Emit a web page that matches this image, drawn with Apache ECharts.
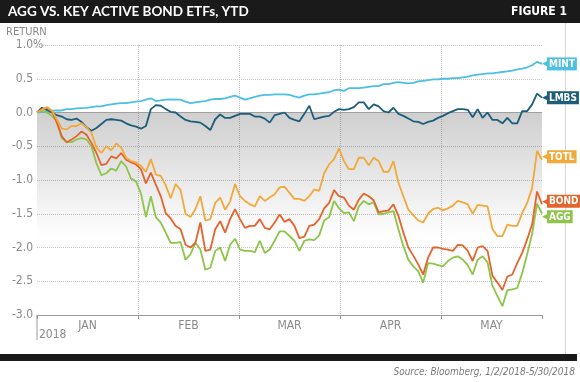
<!DOCTYPE html>
<html>
<head>
<meta charset="utf-8">
<script src="https://cdn.jsdelivr.net/npm/echarts@6/dist/echarts.min.js"></script>
<style>
html,body{margin:0;padding:0;background:#fff;}
#chart{width:580px;height:382px;}
</style>
</head>
<body>
<div id="chart"></div>
<script>
// ---- DATA ----
const dates = [
'2018-01-02','2018-01-03','2018-01-04','2018-01-05','2018-01-08','2018-01-09','2018-01-10','2018-01-11','2018-01-12','2018-01-16',
'2018-01-17','2018-01-18','2018-01-19','2018-01-22','2018-01-23','2018-01-24','2018-01-25','2018-01-26','2018-01-29','2018-01-30',
'2018-01-31','2018-02-01','2018-02-02','2018-02-05','2018-02-06','2018-02-07','2018-02-08','2018-02-09','2018-02-12','2018-02-13',
'2018-02-14','2018-02-15','2018-02-16','2018-02-20','2018-02-21','2018-02-22','2018-02-23','2018-02-26','2018-02-27','2018-02-28',
'2018-03-01','2018-03-02','2018-03-05','2018-03-06','2018-03-07','2018-03-08','2018-03-09','2018-03-12','2018-03-13','2018-03-14',
'2018-03-15','2018-03-16','2018-03-19','2018-03-20','2018-03-21','2018-03-22','2018-03-23','2018-03-26','2018-03-27','2018-03-28',
'2018-03-29','2018-04-02','2018-04-03','2018-04-04','2018-04-05','2018-04-06','2018-04-09','2018-04-10','2018-04-11','2018-04-12',
'2018-04-13','2018-04-16','2018-04-17','2018-04-18','2018-04-19','2018-04-20','2018-04-23','2018-04-24','2018-04-25','2018-04-26',
'2018-04-27','2018-04-30','2018-05-01','2018-05-02','2018-05-03','2018-05-04','2018-05-07','2018-05-08','2018-05-09','2018-05-10',
'2018-05-11','2018-05-14','2018-05-15','2018-05-16','2018-05-17','2018-05-18','2018-05-21','2018-05-22','2018-05-23','2018-05-24',
'2018-05-25','2018-05-29','2018-05-30'
];
const monthLabels = ['JAN','FEB','MAR','APR','MAY'];

const mint = [
0,0.01,0.02,0.025,0.03,0.03,0.05,0.05,0.06,0.065,
0.07,0.08,0.09,0.09,0.11,0.12,0.13,0.14,0.14,0.15,
0.16,0.17,0.19,0.21,0.17,0.18,0.19,0.195,0.19,0.19,
0.16,0.14,0.15,0.16,0.17,0.19,0.2,0.2,0.21,0.23,
0.25,0.22,0.19,0.21,0.23,0.25,0.26,0.26,0.27,0.27,
0.27,0.26,0.24,0.22,0.25,0.27,0.27,0.28,0.29,0.3,
0.33,0.34,0.32,0.36,0.36,0.36,0.37,0.38,0.39,0.39,
0.42,0.42,0.44,0.45,0.44,0.43,0.44,0.46,0.47,0.48,
0.49,0.49,0.5,0.5,0.51,0.51,0.52,0.53,0.55,0.56,
0.57,0.58,0.58,0.59,0.6,0.61,0.62,0.64,0.65,0.67,
0.7,0.75,0.72
];
const lmbs = [
0,0.07,0.04,0.0,-0.04,-0.06,-0.1,-0.11,-0.09,-0.14,
-0.22,-0.27,-0.23,-0.17,-0.11,-0.1,-0.11,-0.12,-0.16,-0.19,
-0.21,-0.24,-0.2,0.05,0.11,0.1,0.05,0.01,0.0,-0.06,
-0.11,-0.13,-0.14,-0.15,-0.2,-0.26,-0.1,-0.03,-0.08,-0.08,
-0.05,-0.02,-0.02,-0.02,-0.06,-0.06,-0.09,-0.15,-0.04,-0.02,
0.0,-0.08,-0.11,-0.13,-0.02,0.1,-0.1,-0.08,-0.06,-0.05,
0.01,0.05,0.04,0.05,0.08,0.15,0.15,0.05,0.12,0.09,
0.02,0.0,0.07,-0.02,-0.05,-0.09,-0.13,-0.14,-0.17,-0.14,
-0.12,-0.08,-0.05,-0.01,0.02,0.05,0.05,0.04,-0.07,0.05,
-0.08,0.0,-0.11,-0.11,-0.16,-0.08,-0.16,-0.16,0.02,0.02,
0.12,0.28,0.22
];
const totl = [
0,0.04,0.08,0.03,-0.1,-0.24,-0.25,-0.2,-0.2,-0.16,
-0.22,-0.3,-0.52,-0.6,-0.5,-0.56,-0.46,-0.52,-0.67,-0.72,
-0.74,-0.79,-0.88,-0.69,-0.92,-0.94,-1.08,-1.27,-1.06,-1.15,
-1.5,-1.55,-1.43,-1.24,-1.6,-1.58,-1.34,-1.26,-1.44,-1.32,
-1.06,-1.24,-1.31,-1.36,-1.39,-1.24,-1.31,-1.26,-1.21,-1.11,
-1.1,-1.19,-1.28,-1.28,-1.31,-1.24,-1.14,-1.16,-0.9,-0.77,
-0.69,-0.53,-0.72,-0.84,-0.84,-0.67,-0.67,-0.78,-0.67,-0.72,
-0.88,-0.88,-0.72,-1.04,-1.24,-1.44,-1.52,-1.6,-1.63,-1.5,
-1.43,-1.41,-1.45,-1.42,-1.38,-1.31,-1.33,-1.36,-1.5,-1.37,
-1.38,-1.39,-1.73,-1.83,-1.83,-1.66,-1.68,-1.68,-1.49,-1.34,
-1.12,-0.57,-0.7
];
const bond = [
0,0.05,0.07,0.02,-0.15,-0.35,-0.44,-0.4,-0.35,-0.28,
-0.33,-0.45,-0.6,-0.78,-0.76,-0.65,-0.68,-0.6,-0.7,-0.74,
-0.77,-0.84,-1.05,-0.89,-1.07,-1.24,-1.49,-1.57,-1.68,-1.73,
-1.96,-2.0,-1.93,-1.63,-2.05,-2.03,-1.73,-1.61,-1.78,-1.58,
-1.43,-1.58,-1.71,-1.68,-1.68,-1.58,-1.71,-1.73,-1.63,-1.51,
-1.62,-1.58,-1.68,-1.86,-1.84,-1.68,-1.66,-1.58,-1.42,-1.34,
-1.15,-1.24,-1.26,-1.38,-1.44,-1.29,-1.2,-1.24,-1.3,-1.48,
-1.46,-1.45,-1.36,-1.53,-1.78,-2.0,-2.12,-2.25,-2.4,-2.15,
-2.0,-2.0,-2.02,-2.03,-2.05,-1.96,-1.97,-2.05,-2.2,-2.0,
-1.98,-2.05,-2.42,-2.52,-2.63,-2.43,-2.4,-2.23,-2.08,-1.88,
-1.66,-1.17,-1.36
];
const agg = [
0,0.03,0.0,-0.05,-0.12,-0.38,-0.44,-0.44,-0.4,-0.38,
-0.4,-0.5,-0.75,-0.93,-0.9,-0.83,-0.86,-0.72,-0.8,-0.98,
-1.02,-1.2,-1.55,-1.24,-1.55,-1.63,-1.78,-1.93,-1.93,-1.92,
-2.18,-2.1,-1.93,-2.03,-2.33,-2.3,-2.05,-2.0,-2.2,-1.96,
-1.87,-2.03,-2.05,-2.05,-2.07,-1.9,-2.08,-2.03,-1.9,-1.76,
-1.76,-1.83,-1.9,-2.05,-1.9,-1.88,-1.89,-1.82,-1.6,-1.55,
-1.31,-1.42,-1.49,-1.48,-1.61,-1.39,-1.31,-1.36,-1.33,-1.51,
-1.5,-1.48,-1.46,-1.73,-1.98,-2.18,-2.28,-2.35,-2.52,-2.23,
-2.24,-2.26,-2.28,-2.2,-2.15,-2.13,-2.18,-2.26,-2.4,-2.18,
-2.13,-2.22,-2.57,-2.72,-2.87,-2.63,-2.62,-2.6,-2.38,-2.1,
-1.8,-1.35,-1.5
];

// ---- STYLE ----
const NARROW = '"Liberation Sans Narrow","DejaVu Sans Condensed","Roboto",sans-serif';
const C = {MINT:'#4cbfe3', LMBS:'#1b5d7b', TOTL:'#f2a93b', BOND:'#e4642c', AGG:'#8dc449'};

function lineSeries(name, data, offset){
  return {
    name: name, type: 'line', data: data, xAxisIndex: 0,
    symbol: 'none', smooth: false, z: 3,
    lineStyle: {color: C[name], width: 1.8},
    itemStyle: {color: C[name]},
    endLabel: {
      show: true, distance: 0, offset: offset || [0,0],
      formatter: '{a|\u25C0}{b|' + name + '}',
      rich: {
        a: {color: C[name], fontSize: 9, fontFamily: 'DejaVu Sans', padding: [0,-2,0,0]},
        b: {backgroundColor: C[name], color: '#fff', fontWeight: 'bold', fontSize: 10,
            fontFamily: NARROW, padding: [2,2,1,2], lineHeight: 12}
      }
    }
  };
}

const chart = echarts.init(document.getElementById('chart'), null, {renderer: 'canvas'});
chart.setOption({
  animation: false,
  backgroundColor: '#ffffff',
  grid: {left: 37, right: 38, top: 45, bottom: 67},
  xAxis: [
    {type: 'category', data: dates, boundaryGap: false, show: false},
    {type: 'category', data: monthLabels, boundaryGap: true, position: 'bottom',
     axisLine: {show: true, lineStyle: {color: '#9a9a9a', width: 1}},
     axisTick: {show: true, length: 4, lineStyle: {color: '#9a9a9a'}},
     axisLabel: {color: '#8a8a8a', fontSize: 12, fontFamily: NARROW, margin: 5},
     splitLine: {show: true, showMinLine: false, showMaxLine: false,
                 lineStyle: {type: 'dotted', color: '#c4c4c4', width: 1}}}
  ],
  yAxis: {
    type: 'value', min: -3, max: 1, interval: 0.5,
    axisLine: {show: false}, axisTick: {show: false},
    axisLabel: {color: '#8a8a8a', fontSize: 12, fontFamily: NARROW, margin: 4,
                formatter: v => v.toFixed(1)},
    splitLine: {show: true, lineStyle: {type: 'dotted', color: '#c4c4c4', width: 1}}
  },
  series: [
    {
      name: 'shade', type: 'line', data: [], xAxisIndex: 0, silent: true, z: 1,
      markArea: {
        silent: true,
        itemStyle: {color: {type: 'linear', x: 0, y: 0, x2: 0, y2: 1,
          colorStops: [{offset: 0, color: 'rgba(0,0,0,0.19)'}, {offset: 0.62, color: 'rgba(0,0,0,0)'}]}},
        data: [[{yAxis: 0}, {yAxis: -3}]]
      },
      markLine: {
        silent: true, symbol: ['none','none'], label: {show: false}, z: 2,
        lineStyle: {color: '#a0a0a0', type: 'solid', width: 1},
        data: [{yAxis: 0}]
      }
    },
    lineSeries('MINT', mint),
    lineSeries('LMBS', lmbs),
    lineSeries('AGG', agg, [0, 3]),
    lineSeries('BOND', bond, [0, -3]),
    lineSeries('TOTL', totl, [0, -3])
  ],
  graphic: [
    {type: 'rect', shape: {x: 0, y: 0, width: 580, height: 23}, style: {fill: '#1a1a1a'}},
    {type: 'text', x: 8, y: 12, style: {text: 'AGG VS. KEY ACTIVE BOND ETFs, YTD', fill: '#ffffff',
      fontFamily: 'Lato', fontWeight: 'bold', fontSize: 13.5, verticalAlign: 'middle', align: 'left'}},
    {type: 'text', x: 567, y: 12, style: {text: 'FIGURE 1', fill: '#ffffff',
      fontFamily: NARROW, fontWeight: 'bold', fontSize: 12, verticalAlign: 'middle', align: 'right'}},
    {type: 'text', x: 6, y: 32, style: {text: 'RETURN', fill: '#8a8a8a',
      fontFamily: NARROW, fontSize: 11, verticalAlign: 'middle', align: 'left'}},
    {type: 'text', x: 33, y: 45, style: {text: '%', fill: '#8a8a8a',
      fontFamily: NARROW, fontSize: 12, verticalAlign: 'middle', align: 'left'}},
    {type: 'line', shape: {x1: 37, y1: 315, x2: 37, y2: 340}, style: {stroke: '#9a9a9a', lineWidth: 1}},
    {type: 'text', x: 39, y: 335, style: {text: '2018', fill: '#8a8a8a',
      fontFamily: NARROW, fontSize: 12, verticalAlign: 'middle', align: 'left'}},
    {type: 'line', shape: {x1: 565.5, y1: 23, x2: 565.5, y2: 354}, style: {stroke: '#d6d6d6', lineWidth: 1}},
    {type: 'rect', shape: {x: 0, y: 354, width: 577, height: 7}, style: {fill: '#1a1a1a'}},
    {type: 'text', x: 575, y: 372, style: {text: 'Source: Bloomberg, 1/2/2018-5/30/2018', fill: '#7a7a7a',
      fontFamily: NARROW, fontStyle: 'italic', fontSize: 10, verticalAlign: 'middle', align: 'right'}}
  ]
});
</script>
</body>
</html>
